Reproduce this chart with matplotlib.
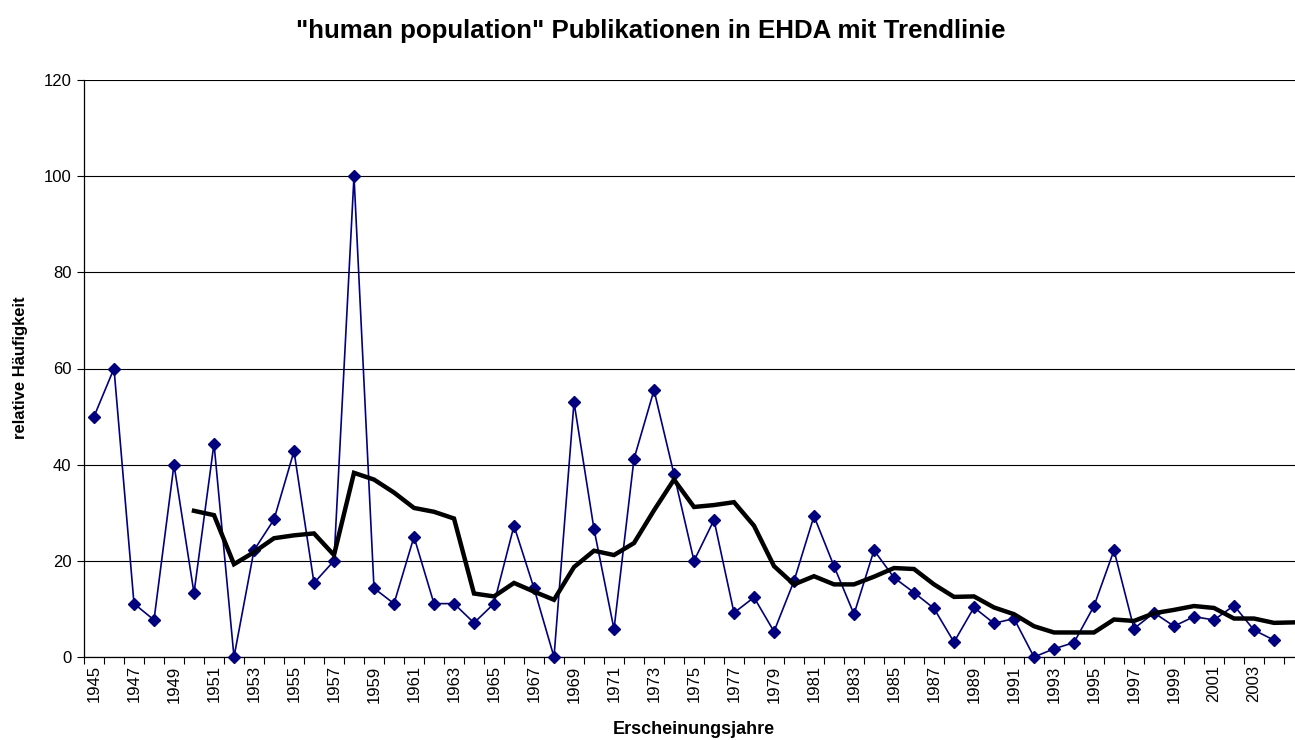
import numpy as np
import matplotlib
matplotlib.use("Agg")
import matplotlib.pyplot as plt

plt.rcParams['font.family'] = ['Liberation Sans', 'DejaVu Sans']

# publication years and relative frequency (blue series)
years = list(range(1945, 2005))
rel_freq = [50.0, 60.0, 11.1, 7.7, 40.0, 13.3, 44.4, 0.0, 22.2, 28.6,
            42.8, 15.4, 20.0, 100.0, 14.3, 11.1, 25.0, 11.1, 11.1, 7.1,
            11.1, 27.3, 14.3, 0.0, 53.0, 26.6, 5.8, 41.2, 55.5, 38.0,
            20.0, 28.5, 9.2, 12.4, 5.3, 15.8, 29.3, 18.9, 8.9, 22.2,
            16.5, 13.4, 10.1, 3.1, 10.3, 7.0, 8.0, 0.0, 1.7, 3.0,
            10.6, 22.2, 5.9, 9.2, 6.4, 8.4, 7.7, 10.7, 5.6, 3.5]

# trend line (moving average as drawn in the chart), 1950-2005
trend_years = list(range(1950, 2006))
trend = [30.4, 29.5, 19.3, 21.8, 24.7, 25.3, 25.7, 21.2, 38.3, 36.9,
         34.2, 31.0, 30.2, 28.8, 13.2, 12.6, 15.4, 13.6, 11.9, 18.7,
         22.1, 21.2, 23.7, 30.5, 36.9, 31.2, 31.6, 32.2, 27.3, 18.9,
         15.1, 16.8, 15.1, 15.1, 16.7, 18.5, 18.3, 15.1, 12.5, 12.6,
         10.3, 8.9, 6.4, 5.1, 5.1, 5.1, 7.8, 7.5, 9.1, 9.8,
         10.6, 10.2, 8.0, 8.0, 7.1, 7.2]

y_ticks = [0, 20, 40, 60, 80, 100, 120]
label_years = list(range(1945, 2005, 2))

fig = plt.figure(figsize=(12.95, 7.40), dpi=100)
# axes runs past the right edge of the figure, as in the original crop
ax = fig.add_axes([84 / 1295, 83 / 740, 1220 / 1295, 577 / 740])

ax.plot(years, rel_freq, color='#000080', linewidth=1.2, marker='D',
        markersize=6, markerfacecolor='#000080', markeredgecolor='#000080',
        zorder=3, clip_on=False)
ax.plot(trend_years, trend, color='black', linewidth=3.2, zorder=4,
        solid_joinstyle='miter')

ax.set_xlim(1944.5, 2005.5)
ax.set_ylim(0, 120)

ax.set_yticks(y_ticks)
ax.yaxis.grid(True, color='black', linewidth=0.8)
ax.set_axisbelow(True)

ax.set_xticks(label_years)
ax.set_xticklabels([str(y) for y in label_years], rotation=90)
ax.set_xticks(np.arange(1944.5, 2006, 1), minor=True)
ax.tick_params(axis='x', which='major', length=0, pad=6, labelsize=12)
ax.tick_params(axis='x', which='minor', length=5, direction='out', width=0.8)
ax.tick_params(axis='y', length=5, direction='out', width=0.8, labelsize=12, pad=4)

for side in ['top', 'right']:
    ax.spines[side].set_visible(False)
for side in ['left', 'bottom']:
    ax.spines[side].set_linewidth(0.9)

fig.text(21 / 1295, 1 - 368 / 740, 'relative Häufigkeit', ha='center', va='center',
         rotation=90, fontsize=12, fontweight='bold')
fig.text(694 / 1295, 1 - 729 / 740, 'Erscheinungsjahre', ha='center', va='center',
         fontsize=13, fontweight='bold')
fig.text(651 / 1295, 1 - 31 / 740, '"human population" Publikationen in EHDA mit Trendlinie',
         ha='center', va='center', fontsize=18.6, fontweight='bold')

fig.savefig('out.png', dpi=100)
